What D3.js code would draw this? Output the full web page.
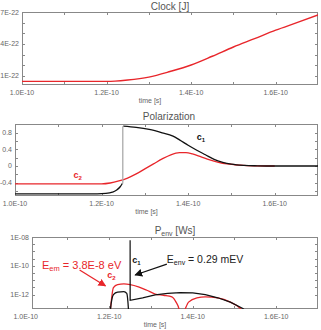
<!DOCTYPE html>
<html>
<head>
<meta charset="utf-8">
<script src="https://cdn.jsdelivr.net/npm/d3@7"></script>
<style>
  body { margin: 0; background: #fff; }
  text { font-family: "Liberation Sans", Arial, sans-serif; }
</style>
</head>
<body>
<script>
// time values in units of 1E-10 s
const xTicks = [1.0, 1.2, 1.4, 1.6];
const xTickLabels = ["1.0E-10", "1.2E-10", "1.4E-10", "1.6E-10"];

// Clock [J], values in 1E-22
const clockT = [1.0, 1.2, 1.22, 1.25, 1.3, 1.35, 1.4, 1.45, 1.5, 1.55, 1.6, 1.65, 1.7];
const clockE = [0.5, 0.5, 0.52, 0.62, 0.9, 1.42, 2.03, 2.85, 3.72, 4.5, 5.3, 6.0, 6.72];
const clockTicks = [1, 4, 7];
const clockTickLabels = ["1E-22", "4E-22", "7E-22"];

// Polarization
const polT1 = [1.0, 1.19, 1.21, 1.225, 1.235, 1.243, 1.248];
const polC1a = [-0.67, -0.67, -0.66, -0.63, -0.58, -0.5, -0.42];
const polT1b = [1.25, 1.28, 1.31, 1.34, 1.365, 1.38, 1.4, 1.42, 1.44, 1.46, 1.48, 1.5, 1.53, 1.56, 1.6, 1.7];
const polC1b = [0.96, 0.93, 0.88, 0.8, 0.72, 0.63, 0.5, 0.38, 0.27, 0.16, 0.09, 0.045, 0.015, 0.005, 0, 0];
const polT2 = [1.0, 1.2, 1.22, 1.24, 1.26, 1.28, 1.3, 1.32, 1.34, 1.36, 1.38, 1.395, 1.41, 1.43, 1.45, 1.47, 1.49, 1.52, 1.55, 1.6];
const polC2 = [-0.43, -0.43, -0.41, -0.36, -0.29, -0.19, -0.07, 0.05, 0.17, 0.27, 0.32, 0.32, 0.29, 0.22, 0.15, 0.09, 0.05, 0.02, 0.005, 0];
const polTicks = [0.8, 0.4, 0, -0.4];
const polTickLabels = ["0.8", "0.4", "0", "-0.4"];

// P_env [Ws]
const envT1 = [1.2, 1.203, 1.21, 1.22, 1.235, 1.242, 1.246, 1.248];
const envC1a = [1e-14, 1e-13, 1e-12, 1.5e-12, 1.6e-12, 1.2e-12, 1e-13, 1e-14];
const envT1b = [1.25, 1.25, 1.2502, 1.28, 1.31, 1.34, 1.37, 1.4, 1.43, 1.46, 1.49, 1.52, 1.53];
const envC1b = [4e-13, 6e-9, 4e-13, 6e-13, 9.5e-13, 1.2e-12, 1.35e-12, 1.3e-12, 1e-12, 6e-13, 3e-13, 1.1e-13, 6e-14];
const envT2 = [1.2, 1.203, 1.21, 1.22, 1.235, 1.25, 1.27, 1.29, 1.31, 1.33, 1.35, 1.36, 1.367, 1.37, 1.375, 1.382, 1.39, 1.41, 1.43, 1.46, 1.49, 1.515, 1.52];
const envC2 = [1e-14, 1e-13, 3e-12, 5e-12, 5.5e-12, 5e-12, 3.5e-12, 2e-12, 1.1e-12, 9e-13, 7e-13, 3e-13, 1e-13, 3e-14, 3e-14, 1e-13, 3e-13, 6e-13, 7e-13, 6e-13, 3e-13, 1e-13, 5e-14];
const envTicks = [1e-8, 1e-10, 1e-12];
const envTickLabels = ["1E-08", "1E-10", "1E-12"];

const red = "#e8262b";
const black = "#111";
const gray = "#666";

const svg = d3.select("body").append("svg")
  .attr("width", 321)
  .attr("height", 330);

function panel(opt) {
  const g = svg.append("g");
  const x = d3.scaleLinear().domain(opt.xDomain).range([opt.left, opt.right]);
  const y = opt.y;
  const id = "clip" + opt.id;
  svg.append("clipPath").attr("id", id)
    .append("rect")
    .attr("x", opt.left).attr("y", opt.top)
    .attr("width", opt.right - opt.left).attr("height", opt.bottom - opt.top);

  // frame
  g.append("rect")
    .attr("x", opt.left + 0.5).attr("y", opt.top + 0.5)
    .attr("width", opt.right - opt.left - 1).attr("height", opt.bottom - opt.top - 1)
    .attr("fill", "none").attr("stroke", "#888").attr("stroke-width", 1);

  // minor ticks (inward) on all four sides
  const xMinor = d3.range(10, 18).map((d) => d / 10).filter((d) => x(d) > opt.left + 2 && x(d) < opt.right - 2);
  xMinor.forEach((d) => {
    const px = Math.round(x(d)) + 0.5;
    g.append("line").attr("x1", px).attr("x2", px).attr("y1", opt.top).attr("y2", opt.top + 3).attr("stroke", "#888");
    g.append("line").attr("x1", px).attr("x2", px).attr("y1", opt.bottom).attr("y2", opt.bottom - 3).attr("stroke", "#888");
  });
  opt.yMinor.filter((d) => y(d) > opt.top + 2 && y(d) < opt.bottom - 2).forEach((d) => {
    const py = Math.round(y(d)) + 0.5;
    g.append("line").attr("x1", opt.left).attr("x2", opt.left + 3).attr("y1", py).attr("y2", py).attr("stroke", "#888");
    g.append("line").attr("x1", opt.right).attr("x2", opt.right - 3).attr("y1", py).attr("y2", py).attr("stroke", "#888");
  });

  // x tick labels
  g.selectAll(".xl")
    .data(xTicks)
    .enter()
    .append("text")
    .attr("x", (d) => x(d))
    .attr("y", opt.bottom + 10)
    .attr("text-anchor", "middle")
    .style("font-size", "7px")
    .style("fill", gray)
    .text((d, i) => xTickLabels[i]);

  // y tick labels
  g.selectAll(".yl")
    .data(opt.yTicks)
    .enter()
    .append("text")
    .attr("x", opt.left - 3)
    .attr("y", (d) => y(d) + 2.5)
    .attr("text-anchor", "end")
    .style("font-size", "7px")
    .style("fill", gray)
    .text((d, i) => opt.yTickLabels[i]);

  g.append("text")
    .attr("x", (opt.left + opt.right) / 2 - 20)
    .attr("y", opt.bottom + 18)
    .attr("text-anchor", "middle")
    .style("font-size", "7px")
    .style("fill", gray)
    .text("time [s]");

  const plot = svg.append("g").attr("clip-path", `url(#${id})`);
  return { g, plot, x, y };
}

function drawLine(p, ts, vs, color, w) {
  const line = d3.line().x((d) => p.x(d[0])).y((d) => p.y(d[1])).curve(d3.curveMonotoneX);
  p.plot.append("path")
    .datum(ts.map((t, i) => [t, vs[i]]))
    .attr("d", line)
    .attr("fill", "none")
    .attr("stroke", color)
    .attr("stroke-width", w || 1.3);
}

// ---- panel 1: Clock
const p1 = panel({
  id: 1, left: 22, right: 318, top: 12, bottom: 85,
  xDomain: [1.0, 1.7],
  y: d3.scaleLinear().domain([0.156, 7]).range([85, 12]),
  yTicks: clockTicks, yTickLabels: clockTickLabels,
  yMinor: d3.range(1, 8)
});
svg.append("text").attr("x", 170).attr("y", 10).attr("text-anchor", "middle")
  .style("font-size", "10px").style("fill", "#555").text("Clock [J]");
drawLine(p1, clockT, clockE, red, 1.4);

// ---- panel 2: Polarization
const p2 = panel({
  id: 2, left: 15, right: 318, top: 124, bottom: 196,
  xDomain: [1.0, 1.7],
  y: d3.scaleLinear().domain([-0.723, 1.012]).range([196, 124]),
  yTicks: polTicks, yTickLabels: polTickLabels,
  yMinor: d3.range(-6, 10, 2).map((d) => d / 10)
});
svg.append("text").attr("x", 169).attr("y", 120).attr("text-anchor", "middle")
  .style("font-size", "10px").style("fill", "#555").text("Polarization");
drawLine(p2, polT2, polC2, red, 1.3);
drawLine(p2, polT1, polC1a, black, 1.3);
drawLine(p2, polT1b, polC1b, black, 1.3);
p2.plot.append("line")
  .attr("x1", p2.x(1.249)).attr("x2", p2.x(1.249))
  .attr("y1", p2.y(polC1a[polC1a.length - 1])).attr("y2", p2.y(polC1b[0]))
  .attr("stroke", "#aaa").attr("stroke-width", 1.3);
p2.g.append("text").attr("x", p2.x(1.42)).attr("y", p2.y(0.62))
  .style("font-size", "9px").style("font-weight", "bold").style("fill", black)
  .html("c<tspan font-size='6px' dy='2'>1</tspan>");
p2.g.append("text").attr("x", p2.x(1.135)).attr("y", p2.y(-0.3))
  .style("font-size", "9px").style("font-weight", "bold").style("fill", red)
  .html("c<tspan font-size='6px' dy='2'>2</tspan>");

// ---- panel 3: P_env
const p3 = panel({
  id: 3, left: 32, right: 318, top: 237, bottom: 309,
  xDomain: [1.015, 1.7],
  y: d3.scaleLog().domain([1e-13, 1e-8]).range([309, 237]),
  yTicks: envTicks, yTickLabels: envTickLabels,
  yMinor: [1e-8, 1e-9, 1e-10, 1e-11, 1e-12].flatMap((d) => [d, d * Math.sqrt(10)])
});
svg.append("text").attr("x", 175).attr("y", 234).attr("text-anchor", "middle")
  .style("font-size", "10px").style("fill", "#555")
  .html("P<tspan font-size='7px' dy='2'>env</tspan><tspan dy='-2'> [Ws]</tspan>");
drawLine(p3, envT2, envC2, red, 1.3);
p3.plot.append("path")
  .datum(envT1.map((t, i) => [t, envC1a[i]]))
  .attr("d", d3.line().x((d) => p3.x(d[0])).y((d) => p3.y(d[1])).curve(d3.curveMonotoneX))
  .attr("fill", "none").attr("stroke", black).attr("stroke-width", 1.3);
p3.plot.append("path")
  .datum(envT1b.map((t, i) => [t, envC1b[i]]))
  .attr("d", d3.line().x((d) => p3.x(d[0])).y((d) => p3.y(d[1])))
  .attr("fill", "none").attr("stroke", black).attr("stroke-width", 1.2);

// annotations
const defs = svg.append("defs");
[["arrRed", red], ["arrBlack", black]].forEach(([id, c]) => {
  defs.append("marker").attr("id", id)
    .attr("viewBox", "0 0 10 10").attr("refX", 9).attr("refY", 5)
    .attr("markerWidth", 6).attr("markerHeight", 6).attr("orient", "auto")
    .append("path").attr("d", "M0,0 L10,5 L0,10 z").attr("fill", c);
});
svg.append("line")
  .attr("x1", p3.x(1.129)).attr("y1", p3.y(5.1e-11))
  .attr("x2", p3.x(1.191)).attr("y2", p3.y(4e-12))
  .attr("stroke", red).attr("stroke-width", 1.3).attr("marker-end", "url(#arrRed)");
svg.append("line")
  .attr("x1", p3.x(1.338)).attr("y1", p3.y(1.3e-10))
  .attr("x2", p3.x(1.262)).attr("y2", p3.y(2.3e-11))
  .attr("stroke", black).attr("stroke-width", 1.3).attr("marker-end", "url(#arrBlack)");

svg.append("text").attr("x", p3.x(1.039)).attr("y", p3.y(6e-11))
  .style("font-size", "11px").style("fill", red)
  .html("E<tspan font-size='7.5px' dy='2'>em</tspan><tspan dy='-2'> = 3.8E-8 eV</tspan>");
svg.append("text").attr("x", p3.x(1.338)).attr("y", p3.y(1.5e-10))
  .style("font-size", "10.5px").style("fill", "#222")
  .html("E<tspan font-size='7px' dy='2'>env</tspan><tspan dy='-2'> = 0.29 mEV</tspan>");
svg.append("text").attr("x", p3.x(1.255)).attr("y", p3.y(1.6e-10))
  .style("font-size", "9px").style("font-weight", "bold").style("fill", black)
  .html("c<tspan font-size='6px' dy='2'>1</tspan>");
svg.append("text").attr("x", p3.x(1.195)).attr("y", p3.y(1.4e-11))
  .style("font-size", "9px").style("font-weight", "bold").style("fill", red)
  .html("c<tspan font-size='6px' dy='2'>2</tspan>");
</script>
</body>
</html>
